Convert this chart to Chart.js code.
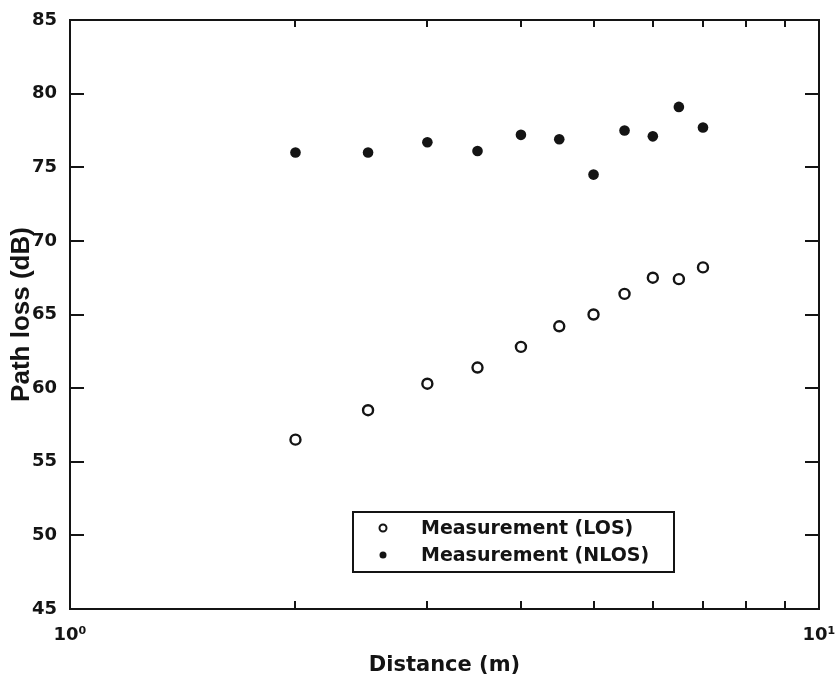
<!DOCTYPE html>
<html>
<head>
<meta charset="utf-8">
<script src="https://cdn.jsdelivr.net/npm/chart.js@4.4.1/dist/chart.umd.min.js"></script>
<style>
  html, body { margin: 0; padding: 0; background: #fff; }
  #wrap { width: 835px; height: 686px; position: relative; }
</style>
</head>
<body>
<div id="wrap"><canvas id="pathloss-chart"></canvas></div>
<script>
const distances = [2, 2.5, 3, 3.5, 4, 4.5, 5, 5.5, 6, 6.5, 7];
const losValues = [56.5, 58.5, 60.3, 61.4, 62.8, 64.2, 65.0, 66.4, 67.5, 67.4, 68.2];
const nlosValues = [76.0, 76.0, 76.7, 76.1, 77.2, 76.9, 74.5, 77.5, 77.1, 79.1, 77.7];
const seriesLabels = ['Measurement (LOS)', 'Measurement (NLOS)'];

// axis ticks
const xMajorTicks = [1, 10];
const xTickLabels = ['10\u2070', '10\u00b9'];
const xMinorTicks = [2, 3, 4, 5, 6, 7, 8, 9];
const yTicks = [45, 50, 55, 60, 65, 70, 75, 80, 85];

const ink = '#141414';
const chartEl = document.getElementById('pathloss-chart');

// box, inward tick marks and the legend inside the plot
const frameTicks = {
  id: 'frameTicks',
  afterDraw(chart) {
    const { ctx, chartArea: a, scales: { x, y } } = chart;
    ctx.save();
    ctx.strokeStyle = ink;
    ctx.lineWidth = 2;
    ctx.strokeRect(a.left, a.top, a.right - a.left, a.bottom - a.top);

    ctx.beginPath();
    xMinorTicks.forEach(v => {
      const px = Math.round(x.getPixelForValue(v));
      ctx.moveTo(px, a.bottom); ctx.lineTo(px, a.bottom - 8);
      ctx.moveTo(px, a.top); ctx.lineTo(px, a.top + 7);
    });
    yTicks.forEach(v => {
      const py = Math.round(y.getPixelForValue(v));
      ctx.moveTo(a.left, py); ctx.lineTo(a.left + 14, py);
      ctx.moveTo(a.right, py); ctx.lineTo(a.right - 14, py);
    });
    ctx.stroke();

    // legend
    const bx = 353, by = 512, bw = 321, bh = 60;
    ctx.fillStyle = '#fff';
    ctx.fillRect(bx, by, bw, bh);
    ctx.strokeRect(bx, by, bw, bh);
    const rows = [by + 16, by + 43];
    ctx.font = 'bold 19px "DejaVu Sans"';
    ctx.textBaseline = 'middle';
    chart.data.datasets.forEach((ds, i) => {
      ctx.beginPath();
      ctx.arc(bx + 30, rows[i], 3.5, 0, Math.PI * 2);
      if (i === 0) {
        ctx.lineWidth = 2;
        ctx.stroke();
      } else {
        ctx.fillStyle = ink;
        ctx.fill();
      }
      ctx.fillStyle = ink;
      ctx.fillText(ds.label, bx + 68, rows[i] + 1);
    });
    ctx.restore();
  }
};

new Chart(chartEl, {
  type: 'scatter',
  data: {
    datasets: [{
      label: seriesLabels[0],
      data: distances.map((d, i) => ({ x: d, y: losValues[i] })),
      pointStyle: 'circle',
      pointRadius: 5,
      pointBorderWidth: 2.4,
      pointBorderColor: ink,
      pointBackgroundColor: '#fff'
    }, {
      label: seriesLabels[1],
      data: distances.map((d, i) => ({ x: d, y: nlosValues[i] })),
      pointStyle: 'circle',
      pointRadius: 5.3,
      pointBorderWidth: 0,
      pointBackgroundColor: ink
    }]
  },
  options: {
    responsive: true,
    maintainAspectRatio: false,
    animation: false,
    layout: { padding: { top: 20, right: 16, left: 0, bottom: 0 } },
    plugins: {
      legend: { display: false },
      tooltip: { enabled: false }
    },
    scales: {
      x: {
        type: 'logarithmic',
        min: 1,
        max: 10,
        afterBuildTicks: s => { s.ticks = xMajorTicks.map(v => ({ value: v })); },
        afterFit: s => { s.height = 77; s.paddingLeft = 0; s.paddingRight = 0; },
        grid: { display: false },
        border: { display: false },
        ticks: {
          autoSkip: false,
          maxRotation: 0,
          padding: 8,
          color: ink,
          font: { family: 'DejaVu Sans', size: 18, weight: 'bold' },
          callback: v => xTickLabels[xMajorTicks.indexOf(v)]
        },
        title: {
          display: true,
          text: 'Distance (m)',
          color: ink,
          font: { family: 'DejaVu Sans', size: 21, weight: 'bold' },
          padding: { top: 0, bottom: 8 }
        }
      },
      y: {
        min: 45,
        max: 85,
        afterBuildTicks: s => { s.ticks = yTicks.map(v => ({ value: v })); },
        afterFit: s => { s.width = 70; s.paddingTop = 0; s.paddingBottom = 0; },
        grid: { display: false },
        border: { display: false },
        ticks: {
          padding: 5,
          color: ink,
          font: { family: 'DejaVu Sans', size: 18, weight: 'bold' }
        },
        title: {
          display: true,
          text: 'Path loss (dB)',
          color: ink,
          font: { family: 'Liberation Sans', size: 26, weight: 'bold' },
          padding: { top: 6, bottom: 0 }
        }
      }
    }
  },
  plugins: [frameTicks]
});
</script>
</body>
</html>
